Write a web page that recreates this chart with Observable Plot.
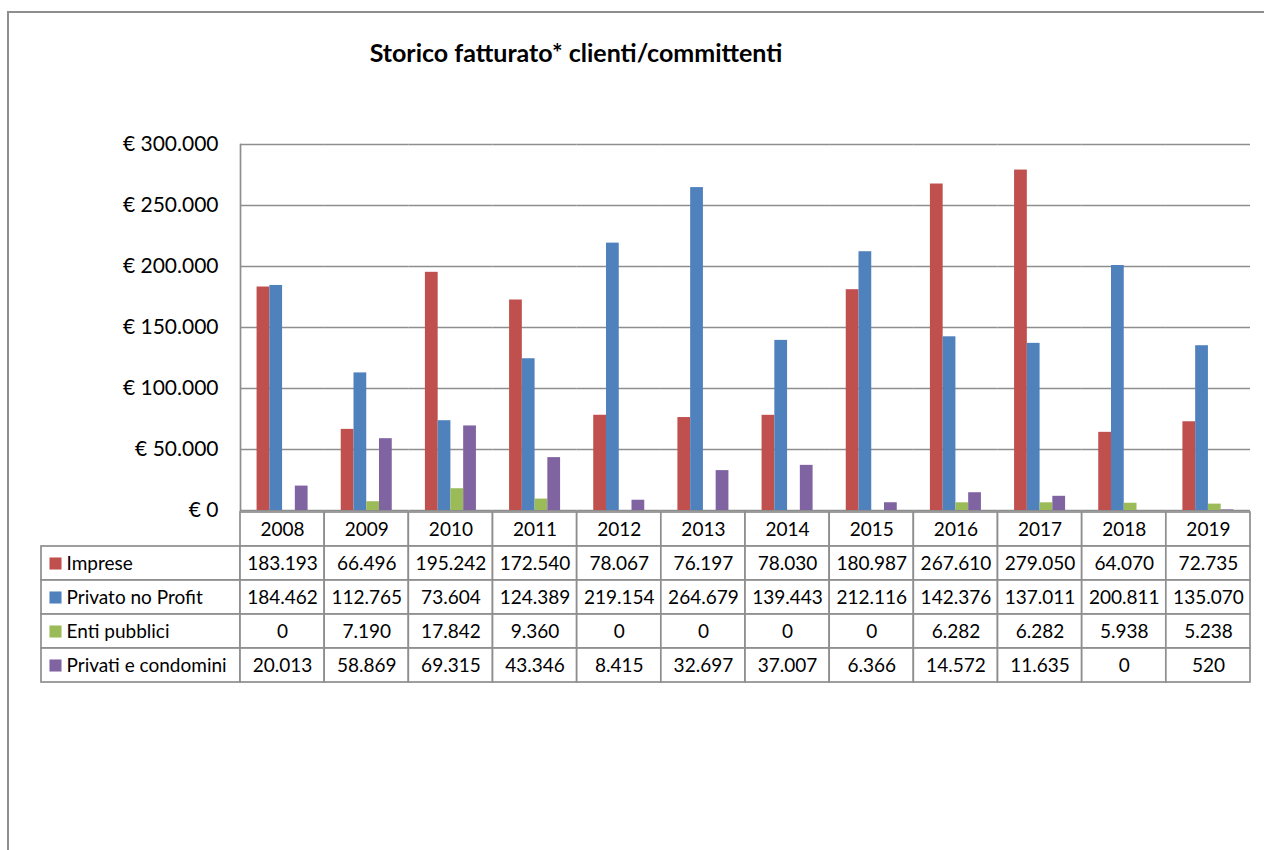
<!DOCTYPE html>
<html>
<head>
<meta charset="utf-8">
<script src="https://cdn.jsdelivr.net/npm/d3@7"></script>
<script src="https://cdn.jsdelivr.net/npm/@observablehq/plot@0.6"></script>
<style>
  body { margin: 0; background: #fff; }
  #page { position: relative; width: 1264px; height: 850px; overflow: hidden; background: #fff; font-family: Lato, "Open Sans", sans-serif; }
  #border { position: absolute; left: 7px; top: 11px; width: 1400px; height: 1000px; border-left: 2px solid #8e8e8e; border-top: 2px solid #8e8e8e; }
  #title { position: absolute; left: 276px; top: 37px; width: 600px; text-align: center; font-weight: bold; font-size: 25px; line-height: 30px; color: #000; }
  #chart { position: absolute; left: 0; top: 100px; }
  #table { position: absolute; left: 0; top: 500px; }
</style>
</head>
<body>
<div id="page">
  <div id="border"></div>
  <div id="title">Storico fatturato* clienti/committenti</div>
  <div id="chart"></div>
  <div id="table"></div>
</div>
<script>
// Fatturato annuo per tipologia di cliente/committente (euro)
const years = ["2008", "2009", "2010", "2011", "2012", "2013", "2014", "2015", "2016", "2017", "2018", "2019"];
const series = ["Imprese", "Privato no Profit", "Enti pubblici", "Privati e condomini"];
const colors = ["#C0504D", "#4F81BD", "#9BBB59", "#8064A2"];

const imprese = [183193, 66496, 195242, 172540, 78067, 76197, 78030, 180987, 267610, 279050, 64070, 72735];
const privatoNoProfit = [184462, 112765, 73604, 124389, 219154, 264679, 139443, 212116, 142376, 137011, 200811, 135070];
const entiPubblici = [0, 7190, 17842, 9360, 0, 0, 0, 0, 6282, 6282, 5938, 5238];
const privatiCondomini = [20013, 58869, 69315, 43346, 8415, 32697, 37007, 6366, 14572, 11635, 0, 520];

const yTicks = [0, 50000, 100000, 150000, 200000, 250000, 300000];

const valuesBySeries = [imprese, privatoNoProfit, entiPubblici, privatiCondomini];

// Italian number formatting: "." as thousands separator, euro prefix
const itLocale = d3.formatLocale({decimal: ",", thousands: ".", grouping: [3], currency: ["€ ", ""]});
const fmtNumber = itLocale.format(",d");
const fmtEuro = itLocale.format("$,d");

const rows = [];
series.forEach((s, k) => {
  years.forEach((y, i) => rows.push({year: y, serie: s, value: valuesBySeries[k][i], i}));
});

const gridColor = "#8e8e8e";
const W = 1264;
const mLeft = 240, mRight = 14;

const chart = Plot.plot({
  width: W,
  height: 412,
  marginTop: 44,
  marginBottom: 2,
  marginLeft: mLeft,
  marginRight: mRight,
  style: {fontFamily: "Lato, 'Open Sans', sans-serif", color: "#000", background: "transparent", overflow: "visible"},
  fx: {domain: years, padding: 0, round: false, axis: null, label: null},
  x: {domain: series, paddingInner: 0, paddingOuter: 1.3, round: false, axis: null},
  y: {domain: [0, 300000], label: null},
  color: {domain: series, range: colors},
  marks: [
    Plot.gridY(yTicks, {stroke: gridColor, strokeOpacity: 1, strokeWidth: 1.7}),
    Plot.frame({anchor: "left", facetAnchor: "left", stroke: gridColor, strokeWidth: 1.7}),
    Plot.axisY(yTicks, {tickSize: 0, tickPadding: 22, tickFormat: fmtEuro, fontSize: 21, label: null}),
    Plot.barY(rows.filter(d => d.value > 0), {fx: "year", x: "serie", y: "value", fill: "serie"})
  ]
});
document.getElementById("chart").appendChild(chart);

// Data table under the chart, aligned with the year columns
const step = (W - mLeft - mRight) / years.length;
const labelLeft = 41;
const labelSpan = (mLeft - labelLeft) / step;

const cells = [];
years.forEach((y, i) => cells.push({row: "anno", i, label: y}));
rows.forEach(d => cells.push({row: d.serie, i: d.i, label: fmtNumber(d.value)}));

const table = Plot.plot({
  width: W,
  height: 194,
  marginTop: 10,
  marginBottom: 10,
  marginLeft: labelLeft,
  marginRight: mRight,
  style: {fontFamily: "Lato, 'Open Sans', sans-serif", color: "#000", background: "transparent", overflow: "visible"},
  x: {domain: [-labelSpan, years.length], axis: null},
  y: {domain: ["anno", ...series], padding: 0, axis: null},
  color: {domain: series, range: colors},
  marks: [
    Plot.barX(series, {x1: -labelSpan, x2: 0, y: d => d, fill: "white", stroke: gridColor, strokeWidth: 1.7}),
    Plot.barX(cells, {x1: "i", x2: d => d.i + 1, y: "row", fill: "white", stroke: gridColor, strokeWidth: 1.7}),
    Plot.text(cells, {x: d => d.i + 0.5, y: "row", text: "label", fontSize: 19, fill: "#000"}),
    Plot.dot(series, {x: -labelSpan, y: d => d, dx: 14, symbol: "square", r: 6.8, fill: d => d, stroke: null}),
    Plot.text(series, {x: -labelSpan, y: d => d, dx: 25, text: d => d, textAnchor: "start", fontSize: 19, fill: "#000"})
  ]
});
document.getElementById("table").appendChild(table);
</script>
</body>
</html>
